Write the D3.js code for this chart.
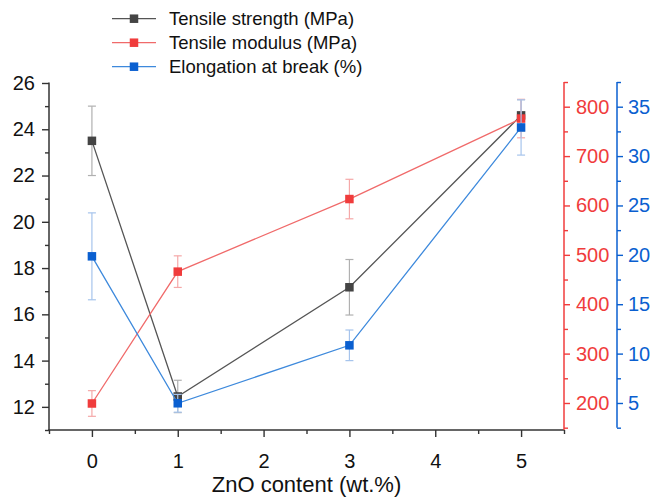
<!DOCTYPE html>
<html>
<head>
<meta charset="utf-8">
<script src="https://cdn.jsdelivr.net/npm/d3@7/dist/d3.min.js"></script>
<style>
html,body{margin:0;padding:0;background:#fff;}
svg{display:block;font-family:"Liberation Sans",Arial,sans-serif;}
</style>
</head>
<body>
<svg id="chart" width="656" height="498"></svg>
<script>
// ---- data ----
const xValues = [0, 1, 3, 5];
const strength = [23.5, 12.45, 17.17, 24.6];
const strengthErr = [1.5, 0.7, 1.2, 0.68];
const modulus = [199, 466, 613, 776];
const modulusErr = [26, 32, 40, 39];
const elongation = [19.85, 4.97, 10.84, 32.9];
const elongationErr = [4.4, 0.9, 1.55, 2.8];
const xTicks = [0, 1, 2, 3, 4, 5];
const leftTicks = [12, 14, 16, 18, 20, 22, 24, 26];
const redTicks = [200, 300, 400, 500, 600, 700, 800];
const blueTicks = [5, 10, 15, 20, 25, 30, 35];
const legendLabels = ["Tensile strength (MPa)", "Tensile modulus (MPa)", "Elongation at break (%)"];
const xTitle = "ZnO content (wt.%)";

const svg = d3.select("#chart");
const plotL = 49, plotR = 564, plotT = 83, plotB = 430;
const redX = 564, blueX = 617;

const x = d3.scaleLinear().domain([-0.5, 5.5]).range([plotL, plotR]);
const yL = d3.scaleLinear().domain([11, 26]).range([plotB, plotT]);
const yR = d3.scaleLinear().domain([145.3, 848]).range([plotB, plotT]);
const yB = d3.scaleLinear().domain([2.265, 37.4]).range([plotB, plotT]);

const colAxis = "#333333";
const red = "#f03c3c", blue = "#0a5fd0";

function styleAxis(g, color, labelColor, fs) {
  g.select(".domain").remove();
  g.selectAll(".tick line").attr("stroke", color).attr("stroke-width", 1.4);
  g.selectAll(".tick text").attr("fill", labelColor).attr("font-size", fs)
    .attr("font-family", "'Liberation Sans', Arial, sans-serif");
}

// x minor ticks
const xMinor = d3.range(-0.5, 5.51, 0.5).filter(v => Math.abs(v - Math.round(v)) > 0.1);
svg.append("g").attr("transform", `translate(0,${plotB})`)
  .call(d3.axisBottom(x).tickValues(xMinor).tickSize(4).tickFormat(""))
  .call(g => styleAxis(g, colAxis, "#000", 20));
svg.append("g").attr("transform", `translate(0,${plotB})`)
  .call(d3.axisBottom(x).tickValues(xTicks).tickSize(7).tickPadding(17).tickFormat(d3.format("d")))
  .call(g => styleAxis(g, colAxis, "#111", 20));
svg.append("line").attr("x1", plotL - 0.7).attr("x2", plotR).attr("y1", plotB).attr("y2", plotB)
  .attr("stroke", colAxis).attr("stroke-width", 1.5);

// left axis
const leftMinor = d3.range(11, 26, 2);
svg.append("g").attr("transform", `translate(${plotL},0)`)
  .call(d3.axisLeft(yL).tickValues(leftMinor).tickSize(4).tickFormat(""))
  .call(g => styleAxis(g, colAxis, "#000", 20));
svg.append("g").attr("transform", `translate(${plotL},0)`)
  .call(d3.axisLeft(yL).tickValues(leftTicks).tickSize(7).tickPadding(7).tickFormat(d3.format("d")))
  .call(g => styleAxis(g, colAxis, "#111", 20));
svg.append("line").attr("x1", plotL).attr("x2", plotL).attr("y1", plotT - 0.5).attr("y2", plotB)
  .attr("stroke", colAxis).attr("stroke-width", 1.5);

// red axis
const redMinor = d3.range(150, 851, 100);
svg.append("g").attr("transform", `translate(${redX},0)`)
  .call(d3.axisRight(yR).tickValues(redMinor).tickSize(4).tickFormat(""))
  .call(g => styleAxis(g, red, red, 20));
svg.append("g").attr("transform", `translate(${redX},0)`)
  .call(d3.axisRight(yR).tickValues(redTicks).tickSize(6).tickPadding(6).tickFormat(d3.format("d")))
  .call(g => styleAxis(g, red, red, 20));
svg.append("line").attr("x1", redX).attr("x2", redX).attr("y1", yR(850)).attr("y2", plotB)
  .attr("stroke", red).attr("stroke-width", 1.5);

// blue axis
const blueMinor = d3.range(2.5, 37.6, 5);
svg.append("g").attr("transform", `translate(${blueX},0)`)
  .call(d3.axisRight(yB).tickValues(blueMinor).tickSize(4).tickFormat(""))
  .call(g => styleAxis(g, blue, blue, 20));
svg.append("g").attr("transform", `translate(${blueX},0)`)
  .call(d3.axisRight(yB).tickValues(blueTicks).tickSize(6).tickPadding(5).tickFormat(d3.format("d")))
  .call(g => styleAxis(g, blue, blue, 20));
svg.append("line").attr("x1", blueX).attr("x2", blueX).attr("y1", yB(37.5)).attr("y2", yB(2.5))
  .attr("stroke", blue).attr("stroke-width", 1.5);

// x title
svg.append("text").attr("x", (plotL + plotR) / 2).attr("y", 492)
  .attr("text-anchor", "middle").attr("font-size", 22).attr("fill", "#111").text(xTitle);

// series
const series = [
  {vals: strength, err: strengthErr, y: yL, line: "#555555", mark: "#444444", errC: "#b0b0b0"},
  {vals: modulus, err: modulusErr, y: yR, line: "#f06a6a", mark: "#f03c3c", errC: "#f5a8a8"},
  {vals: elongation, err: elongationErr, y: yB, line: "#3d89dc", mark: "#0a5fd0", errC: "#a6c4ec"}
];
const ms = 8.5, cap = 4;
series.forEach(s => {
  const pts = xValues.map((xv, i) => ({x: xv, v: s.vals[i], e: s.err[i]}));
  const g = svg.append("g");
  pts.forEach(p => {
    const cx = x(p.x), yt = s.y(p.v + p.e), yb = s.y(p.v - p.e);
    g.append("line").attr("x1", cx).attr("x2", cx).attr("y1", yt).attr("y2", yb).attr("stroke", s.errC).attr("stroke-width", 1.2);
    g.append("line").attr("x1", cx - cap).attr("x2", cx + cap).attr("y1", yt).attr("y2", yt).attr("stroke", s.errC).attr("stroke-width", 1.2);
    g.append("line").attr("x1", cx - cap).attr("x2", cx + cap).attr("y1", yb).attr("y2", yb).attr("stroke", s.errC).attr("stroke-width", 1.2);
  });
  g.append("path").datum(pts)
    .attr("d", d3.line().x(p => x(p.x)).y(p => s.y(p.v)))
    .attr("fill", "none").attr("stroke", s.line).attr("stroke-width", 1.3);
  g.selectAll("rect").data(pts).join("rect")
    .attr("x", p => x(p.x) - ms / 2).attr("y", p => s.y(p.v) - ms / 2)
    .attr("width", ms).attr("height", ms).attr("fill", s.mark);
});

// legend
const legY = [18.7, 42.7, 66.7];
legendLabels.forEach((lab, i) => {
  const s = series[i];
  svg.append("line").attr("x1", 112).attr("x2", 156).attr("y1", legY[i]).attr("y2", legY[i])
    .attr("stroke", s.line).attr("stroke-width", 1.3);
  svg.append("rect").attr("x", 134 - ms / 2).attr("y", legY[i] - ms / 2).attr("width", ms).attr("height", ms).attr("fill", s.mark);
  svg.append("text").attr("x", 169).attr("y", legY[i] + 6.5).attr("font-size", 18.5).attr("fill", "#111").text(lab);
});
</script>
</body>
</html>
